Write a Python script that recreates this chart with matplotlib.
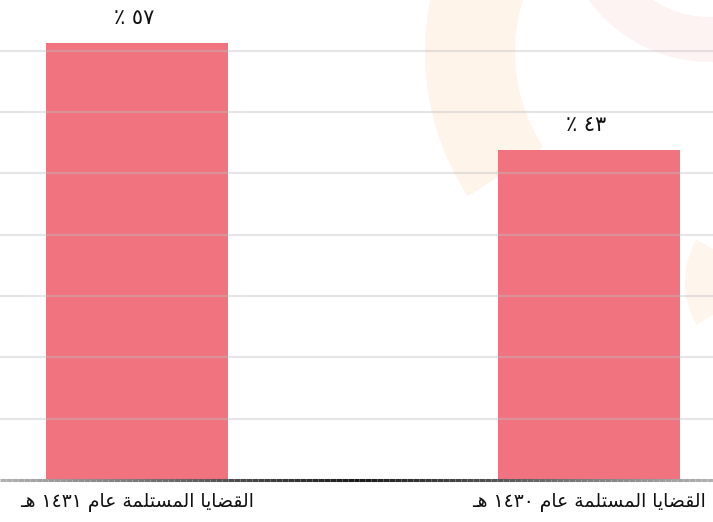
#!/usr/bin/env python3
"""Received cases, 1430 vs 1431 H, as a two-bar chart."""

import re

import matplotlib

matplotlib.use("Agg")
import matplotlib.pyplot as plt
import numpy as np
from matplotlib.collections import LineCollection
from matplotlib.patches import Wedge


# left to right, as in the picture
CATEGORIES = ["القضايا المستلمة عام ١٤٣١ هـ", "القضايا المستلمة عام ١٤٣٠ هـ"]
VALUES = [57, 43]
GRID_STEP = 8

BAR_COLOR = "#f0737f"

# presentation forms: isolated, final, initial, medial
FORMS = {
    "ا": ("\ufe8d", "\ufe8e", None, None),
    "ل": ("\ufedd", "\ufede", "\ufedf", "\ufee0"),
    "ق": ("\ufed5", "\ufed6", "\ufed7", "\ufed8"),
    "ض": ("\ufebd", "\ufebe", "\ufebf", "\ufec0"),
    "ي": ("\ufef1", "\ufef2", "\ufef3", "\ufef4"),
    "م": ("\ufee1", "\ufee2", "\ufee3", "\ufee4"),
    "س": ("\ufeb1", "\ufeb2", "\ufeb3", "\ufeb4"),
    "ت": ("\ufe95", "\ufe96", "\ufe97", "\ufe98"),
    "ة": ("\ufe93", "\ufe94", None, None),
    "ع": ("\ufec9", "\ufeca", "\ufecb", "\ufecc"),
    "ه": ("\ufee9", "\ufeea", "\ufeeb", "\ufeec"),
}
TATWEEL = "\u0640"
DIGITS = str.maketrans("0123456789", "٠١٢٣٤٥٦٧٨٩")


def joins_left(ch):
    return ch == TATWEEL or (ch in FORMS and FORMS[ch][2] is not None)


def shape(text):
    """Rough Arabic shaping + reversal, since matplotlib does neither."""
    out = []
    for i, ch in enumerate(text):
        if ch not in FORMS:
            out.append(ch)
            continue
        prev = text[i - 1] if i > 0 else ""
        nxt = text[i + 1] if i + 1 < len(text) else ""
        before = joins_left(prev)
        after = joins_left(ch) and (nxt in FORMS or nxt == TATWEEL)
        iso, fin, ini, med = FORMS[ch]
        if before and after:
            out.append(med)
        elif before:
            out.append(fin)
        elif after:
            out.append(ini)
        else:
            out.append(iso)
    tokens = re.findall(r"[\u0660-\u0669]+|.", "".join(out))
    return "".join(reversed(tokens))


fig = plt.figure(figsize=(7.13, 5.22), dpi=100)
fig.patch.set_facecolor("white")

# faint watermark behind the chart
bg = fig.add_axes([0, 0, 1, 1], zorder=0)
bg.set_xlim(0, 713)
bg.set_ylim(0, 522)
bg.axis("off")
bg.add_patch(Wedge((690, 470), 265, 150, 213, width=90, color="#fde7d2", alpha=0.45, lw=0))
bg.add_patch(Wedge((710, 610), 150, 215, 300, width=45, color="#fde2e2", alpha=0.4, lw=0))
bg.add_patch(Wedge((770, 240), 85, 150, 210, width=30, color="#fde7d2", alpha=0.4, lw=0))

ax = fig.add_axes([0, 42 / 522, 1, 480 / 522], zorder=1)
ax.patch.set_alpha(0)

x = np.arange(len(CATEGORIES))
bars = ax.bar(x, VALUES, width=0.403, color=BAR_COLOR, zorder=1)

for bar, value in zip(bars, VALUES):
    label = shape(str(value).translate(DIGITS) + " ٪")
    ax.annotate(
        label,
        (bar.get_x() + bar.get_width() / 2, bar.get_height()),
        xytext=(-2, 11),
        textcoords="offset points",
        ha="center",
        va="bottom",
        fontsize=15,
        color="#111111",
    )

ax.set_xlim(-0.303, 1.274)
ax.set_ylim(0, 62.6)
ax.set_yticks(np.arange(GRID_STEP, max(VALUES) + 1, GRID_STEP))
ax.yaxis.grid(True, color="#bfbfbf", alpha=0.4, linewidth=1.6, zorder=3)
ax.set_axisbelow(False)
ax.tick_params(axis="y", left=False, labelleft=False)
ax.set_xticks(x)
ax.set_xticklabels([shape(c) for c in CATEGORIES], fontsize=13.5, color="#111111")
ax.tick_params(axis="x", bottom=False, pad=6)
for side in ("left", "right", "top", "bottom"):
    ax.spines[side].set_visible(False)

# baseline: dark in the middle, fading to grey at the ends
xs = np.linspace(-0.303, 1.274, 120)
segs = [[(a, 0), (b, 0)] for a, b in zip(xs[:-1], xs[1:])]
mid = (xs[:-1] + xs[1:]) / 2
shade = np.clip(np.abs(mid - 0.485) / 0.79, 0, 1)
cols = [(0.1 + 0.6 * s, 0.1 + 0.6 * s, 0.1 + 0.6 * s) for s in shade]
ax.add_collection(LineCollection(segs, colors=cols, linewidths=2.2, zorder=4, clip_on=False))

fig.savefig("out.png", dpi=100)
